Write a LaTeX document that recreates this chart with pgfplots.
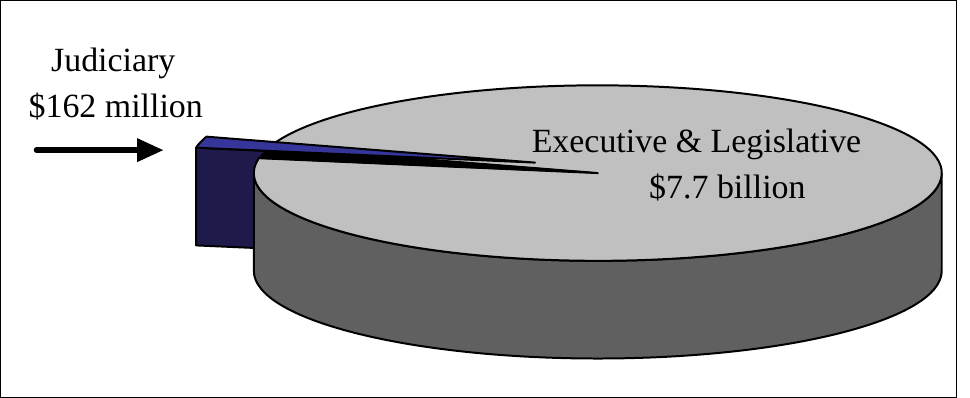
\documentclass[border=0pt]{standalone}
\usepackage{pgfplots}
\usepackage{pgfplotstable}
\pgfplotsset{compat=1.18}
\usepackage{fontspec}
\setmainfont{Liberation Serif}
\definecolor{facegray}{HTML}{C0C0C0}
\definecolor{sidegray}{HTML}{606060}
\definecolor{navywall}{HTML}{1E1B4C}
\definecolor{bluetop}{HTML}{35359A}

\pgfplotstableread{
label value
Executive 7700
Judiciary 162
}\pietable
\pgfplotstablegetelem{0}{value}\of\pietable \let\vexec\pgfplotsretval
\pgfplotstablegetelem{1}{value}\of\pietable \let\vjud\pgfplotsretval

% geometry of the 3D pie (1 unit = 1pt)
\def\cx{605}\def\cy{227}\def\rx{345}\def\ry{88}\def\dep{98}
\def\ex{-63}\def\ey{10.5}
\pgfmathsetmacro\jfrac{(\vjud/100)/((\vexec+\vjud)/100)}
\pgfmathsetmacro\ja{360*\jfrac}
\def\tone{162.8}
\pgfmathsetmacro\ttwo{\tone+\ja}
\pgfmathsetmacro\tonefull{\tone+360}
\pgfmathsetmacro\xone{\cx+\rx*cos(\tone)}
\pgfmathsetmacro\yone{\cy+\ry*sin(\tone)}
\pgfmathsetmacro\xtwo{\cx+\rx*cos(\ttwo)}
\pgfmathsetmacro\ytwo{\cy+\ry*sin(\ttwo)}
\pgfmathsetmacro\bxtwo{\xtwo+\ex}
\pgfmathsetmacro\bytwo{\ytwo+\ey}
\pgfmathsetmacro\bytwob{\bytwo-\dep}
\pgfmathsetmacro\apx{\cx+\ex}
\pgfmathsetmacro\apy{\cy+\ey}
\pgfmathsetmacro\apyb{\apy-\dep}
\pgfmathsetmacro\cxl{\cx-\rx}
\pgfmathsetmacro\cyb{\cy-\dep}
\pgfmathsetmacro\cxr{\cx+\rx}

\begin{document}
\begin{tikzpicture}
\begin{axis}[
  scale only axis, width=970pt, height=405pt,
  xmin=0, xmax=970, ymin=0, ymax=405,
  enlargelimits=false, hide axis, clip=false]
% frame
\draw[line width=1.2pt] (axis cs:6,2) rectangle (axis cs:965,400);
% navy wall of the exploded slice
\filldraw[fill=navywall, line width=2pt, line join=round]
  (axis cs:\bxtwo,\bytwo) -- (axis cs:\apx,\apy) -- (axis cs:\apx,\apyb)
  -- (axis cs:\bxtwo,\bytwob) -- cycle;
% main slice side
\filldraw[fill=sidegray, line width=2pt, line join=round]
  (axis cs:\cxl,\cy) arc[start angle=180, end angle=360, x radius=345pt, y radius=88pt]
  -- (axis cs:\cxr,\cyb)
  arc[start angle=360, end angle=180, x radius=345pt, y radius=88pt] -- cycle;
% main slice top
\filldraw[fill=facegray, line width=2pt, line join=round]
  (axis cs:\cx,\cy) -- (axis cs:\xtwo,\ytwo)
  arc[start angle=\ttwo, end angle=\tonefull, x radius=345pt, y radius=88pt] -- cycle;
% gap wall
\filldraw[fill=black, line width=1.2pt, line join=round]
  (axis cs:\cx,\cy) -- (axis cs:\xone,\yone) -- (axis cs:\xtwo,\ytwo) -- cycle;
% exploded slice top
\filldraw[fill=bluetop, line width=2pt, line join=round]
  (axis cs:\apx,\apy) -- (axis cs:\bxtwo,\bytwo)
  arc[start angle=\ttwo, end angle=\tone, x radius=345pt, y radius=88pt] -- cycle;
% arrow
\draw[line width=5.5pt, line cap=round] (axis cs:42,250) -- (axis cs:146,250);
\fill (axis cs:143,262) -- (axis cs:169,250) -- (axis cs:143,238) -- cycle;
% labels
\node[anchor=base, inner sep=0pt, font=\fontsize{34}{40}\selectfont] at (axis cs:119,329) {Judiciary};
\node[anchor=base, inner sep=0pt, font=\fontsize{34}{40}\selectfont] at (axis cs:121.5,283) {\$162 million};
\node[anchor=base, inner sep=0pt, font=\fontsize{34}{40}\selectfont] at (axis cs:704,248) {Executive \& Legislative};
\node[anchor=base, inner sep=0pt, font=\fontsize{34}{40}\selectfont] at (axis cs:735,201) {\$7.7 billion};
\end{axis}
\end{tikzpicture}
\end{document}
